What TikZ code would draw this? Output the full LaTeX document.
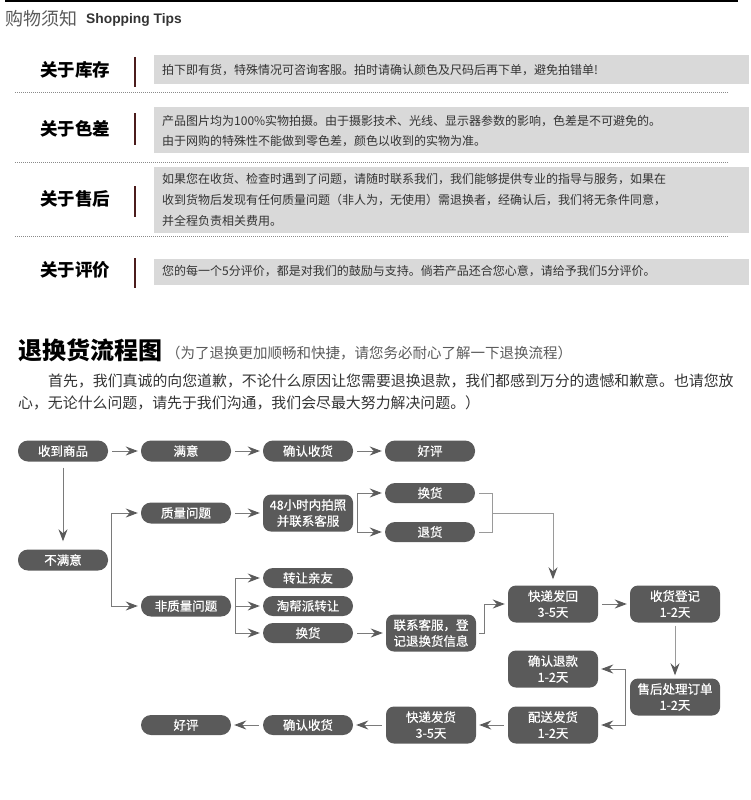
\documentclass[tikz,border=0pt]{standalone}
\usepackage{fontspec}
\setmainfont{Noto Sans CJK SC}
\newfontfamily\arialf{Liberation Sans}
\newfontfamily\nodefont[FakeBold=0.6]{Noto Sans CJK SC}
\usetikzlibrary{arrows.meta}
\definecolor{nodegray}{HTML}{5A5A5A}
\definecolor{linegray}{HTML}{7A7A7A}
\definecolor{lightline}{HTML}{9A9A9A}
\definecolor{boxfill}{HTML}{D9D9D9}
\definecolor{divred}{HTML}{4B1C1C}
\definecolor{dotgray}{HTML}{8A8A8A}
\definecolor{txtgray}{HTML}{333333}
\tikzset{
  fnode/.style={fill=nodegray, text=white, rounded corners=10pt, minimum width=90pt, minimum height=21pt,
    inner sep=0pt, align=center, font=\nodefont\fontsize{12.5}{16}\selectfont},
  fnodetwo/.style={fnode, minimum height=37pt, rounded corners=8pt},
  arr/.style={draw=linegray, line width=1pt, shorten <=4pt, shorten >=3pt,
    -{Stealth[length=12pt,width=9pt,inset=4pt,color=nodegray]}},
  larr/.style={arr, draw=lightline},
  lline/.style={draw=lightline, line width=1pt},
  tiplabel/.style={anchor=center, inner sep=0pt, font=\bfseries\fontsize{17.5}{20}\selectfont, text=black},
  tiptext/.style={anchor=west, inner sep=0pt, font=\fontsize{12}{14}\selectfont, text=txtgray},
  tipbox/.style={fill=boxfill, draw=none},
  divider/.style={draw=divred, line width=1.2pt},
  dotline/.style={draw=dotgray, line width=0.8pt, dash pattern=on 1pt off 1pt},
}
\begin{document}
\begin{tikzpicture}[x=1pt,y=-1pt]
\useasboundingbox (0,0) rectangle (750,800);
% header
\draw[line width=1.6pt, black] (5,1) -- (738,1);
\node[anchor=west, inner sep=0pt, text=nodegray, font=\fontsize{18}{20}\selectfont] (hd) at (5,19) {购物须知};
\node[anchor=west, inner sep=0pt, text=txtgray, font=\arialf\bfseries\fontsize{13.8}{15}\selectfont] (hde) at (86,20) {Shopping Tips};
% tip boxes
\fill[tipbox] (154,55) rectangle (749,84);
\fill[tipbox] (154,107) rectangle (749,153);
\fill[tipbox] (154,167) rectangle (749,233);
\fill[tipbox] (154,259) rectangle (749,285);
\draw[divider] (135,57) -- (135,87);
\draw[divider] (135,113) -- (135,145);
\draw[divider] (135,186) -- (135,217);
\draw[divider] (135,258) -- (135,288);
\draw[dotline] (15,92) -- (728,92);
\draw[dotline] (15,162) -- (728,162);
\draw[dotline] (15,236) -- (728,236);
\node[tiplabel] (l1) at (75,70) {关于库存};
\node[tiplabel] (l2) at (75,129) {关于色差};
\node[tiplabel] (l3) at (75,199) {关于售后};
\node[tiplabel] (l4) at (75,270) {关于评价};
\node[tiptext] (t1) at (162,70) {拍下即有货，特殊情况可咨询客服。拍时请确认颜色及尺码后再下单，避免拍错单!};
\node[tiptext] (t2a) at (162,121) {产品图片均为100\%实物拍摄。由于摄影技术、光线、显示器参数的影响，色差是不可避免的。};
\node[tiptext] (t2b) at (162,141) {由于网购的特殊性不能做到零色差，颜色以收到的实物为准。};
\node[tiptext] (t3a) at (162,179) {如果您在收货、检查时遇到了问题，请随时联系我们，我们能够提供专业的指导与服务，如果在};
\node[tiptext] (t3b) at (162,200) {收到货物后发现有任何质量问题（非人为，无使用）需退换者，经确认后，我们将无条件同意，};
\node[tiptext] (t3c) at (162,221) {并全程负责相关费用。};
\node[tiptext] (t4) at (162,271) {您的每一个5分评价，都是对我们的鼓励与支持。倘若产品还合您心意，请给予我们5分评价。};
% flow title
\node[anchor=west, inner sep=0pt, text=black, font=\bfseries\fontsize{24}{26}\selectfont] (ft) at (18,350) {退换货流程图};
\node[anchor=west, inner sep=0pt, text=nodegray, font=\fontsize{14.5}{16}\selectfont] (fs) at (166,353) {（为了退换更加顺畅和快捷，请您务必耐心了解一下退换流程）};
\node[anchor=west, inner sep=0pt, text=txtgray, font=\fontsize{14.9}{18}\selectfont] (p1) at (48,381) {首先，我们真诚的向您道歉，不论什么原因让您需要退换退款，我们都感到万分的遗憾和歉意。也请您放};
\node[anchor=west, inner sep=0pt, text=txtgray, font=\fontsize{14.9}{18}\selectfont] (p2) at (18,403) {心，无论什么问题，请先于我们沟通，我们会尽最大努力解决问题。）};
% flow nodes
\node[fnode] (n1) at (63,451) {收到商品};
\node[fnode] (n2) at (186,451) {满意};
\node[fnode] (n3) at (308,451) {确认收货};
\node[fnode] (n4) at (430,451) {好评};
\node[fnode] (bm) at (63,560) {不满意};
\node[fnode] (zl) at (186,513) {质量问题};
\node[fnodetwo] (h48) at (308,513) {48小时内拍照\\并联系客服};
\node[fnode, minimum height=20pt] (hh) at (430,493) {换货};
\node[fnode, minimum height=20pt] (th) at (430,532) {退货};
\node[fnode] (fzl) at (186,606) {非质量问题};
\node[fnode, minimum height=20pt] (zr) at (308,578) {转让亲友};
\node[fnode, minimum height=20pt] (tb) at (308,606) {淘帮派转让};
\node[fnode, minimum height=20pt] (hh2) at (308,633) {换货};
\node[fnodetwo] (lx) at (431,633) {联系客服，登\\记退换货信息};
\node[fnodetwo] (kf) at (553,604) {快递发回\\3-5天};
\node[fnodetwo] (sd) at (675,604) {收货登记\\1-2天};
\node[fnodetwo] (qr) at (553,669) {确认退款\\1-2天};
\node[fnodetwo] (sh) at (675,697) {售后处理订单\\1-2天};
\node[fnodetwo] (ps) at (553,725) {配送发货\\1-2天};
\node[fnodetwo] (kd) at (431,725) {快递发货\\3-5天};
\node[fnode, minimum height=20pt] (qs) at (308,725) {确认收货};
\node[fnode, minimum height=20pt] (hp) at (186,725) {好评};
% connectors
\draw[arr] (n1) -- (n2);
\draw[arr] (n2) -- (n3);
\draw[arr] (n3) -- (n4);
\draw[arr, shorten <=6pt, shorten >=8pt] (n1) -- (bm);
\draw[arr, shorten <=0pt] ([xshift=3pt]bm.east) |- (zl);
\draw[arr, shorten <=0pt] ([xshift=3pt]bm.east) |- (fzl);
\draw[arr] (zl) -- (h48);
\draw[arr, shorten <=0pt] ([xshift=4pt]h48.east) |- (hh);
\draw[arr, shorten <=0pt] ([xshift=4pt]h48.east) |- (th);
\coordinate (bx) at (492,513);
\draw[lline] ([xshift=4pt]hh.east) -| (bx);
\draw[lline] ([xshift=4pt]th.east) -| (bx);
\draw[larr, shorten <=0pt, shorten >=6pt] (bx) -| (kf);
\draw[arr, shorten <=0pt] ([xshift=4pt]fzl.east) |- (zr);
\draw[arr, shorten <=0pt] ([xshift=4pt]fzl.east) |- (tb);
\draw[arr, shorten <=0pt] ([xshift=4pt]fzl.east) |- (hh2);
\draw[arr] (hh2) -- (lx);
\draw[arr, shorten <=3pt] (lx.east) -- ++(8,0) |- (kf);
\draw[arr] (kf) -- (sd);
\draw[larr, shorten <=3pt, shorten >=3pt] (sd) -- (sh);
\draw[arr, shorten <=0pt] ([xshift=-4pt]sh.west) |- (qr);
\draw[arr, shorten <=0pt] ([xshift=-4pt]sh.west) |- (ps);
\draw[arr] (ps) -- (kd);
\draw[arr] (kd) -- (qs);
\draw[arr] (qs) -- (hp);
\end{tikzpicture}
\end{document}
